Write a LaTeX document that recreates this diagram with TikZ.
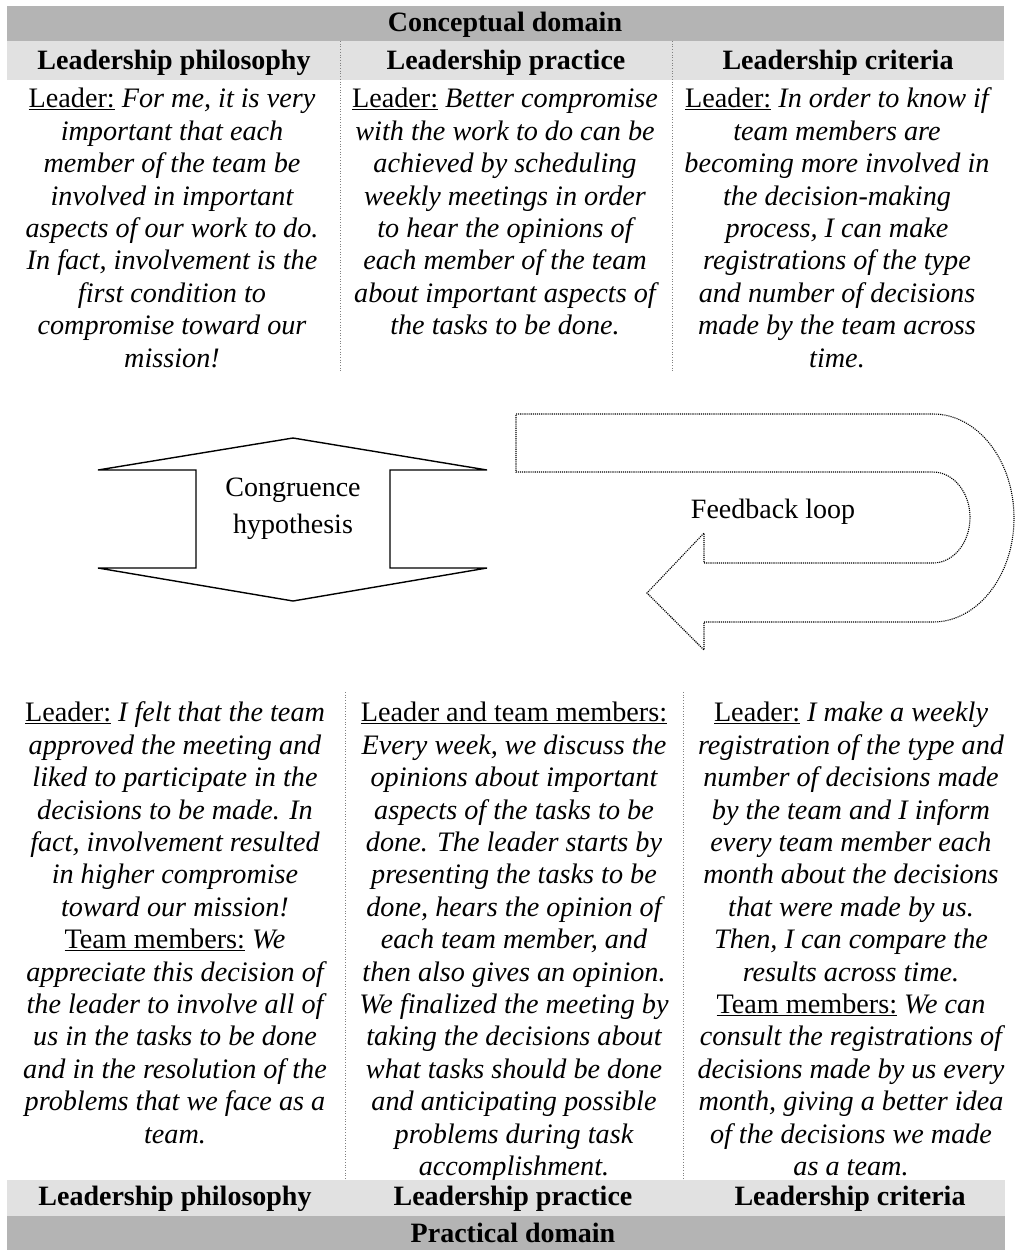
\documentclass[tikz,border=0pt]{standalone}
\usepackage{fontspec}
\setmainfont{Liberation Serif}
\definecolor{barDark}{HTML}{B4B4B4}
\definecolor{barLight}{HTML}{E1E1E1}
\newcommand\rolelabel[1]{\underline{\upshape #1}}
\begin{document}
\begin{tikzpicture}[x=1pt,y=-1pt,
  darkbar/.style={fill=barDark,draw=none},
  lightbar/.style={fill=barLight,draw=none},
  head/.style={font=\fontsize{28}{32}\selectfont\bfseries,inner sep=0pt,anchor=base},
  body/.style={font=\fontsize{28.2}{32.4}\selectfont\itshape,align=center,inner sep=0pt,anchor=north},
  label/.style={font=\fontsize{28}{37}\selectfont,align=center,inner sep=0pt},
  divider/.style={gray,dotted,line width=0.7pt},
  outline/.style={line width=1.4pt,line join=miter},
  loopline/.style={densely dotted,line width=1.1pt}]
\useasboundingbox (0,0) rectangle (1015,1250);

% header bars of the conceptual domain
\fill[darkbar] (7,6) rectangle (1004,41);
\fill[lightbar] (7,41) rectangle (1004,80);
\node[head] (cdom) at (505,31) {Conceptual domain};
\node[head] (cphil) at (174,69) {Leadership philosophy};
\node[head] (cprac) at (506,69) {Leadership practice};
\node[head] (ccrit) at (838,69) {Leadership criteria};
\draw[divider] (340,41) -- (340,372);
\draw[divider] (672,41) -- (672,372);

% conceptual statements
\node[body] (tphil) at (172,85) {\strut\rolelabel{Leader:} For me, it is very\\
important that each\\
member of the team be\\
involved in important\\
aspects of our work to do.\\
In fact, involvement is the\\
first condition to\\
compromise toward our\\
mission!};
\node[body] (tprac) at (505,85) {\strut\rolelabel{Leader:} Better compromise\\
with the work to do can be\\
achieved by scheduling\\
weekly meetings in order\\
to hear the opinions of\\
each member of the team\\
about important aspects of\\
the tasks to be done.};
\node[body] (tcrit) at (837,85) {\strut\rolelabel{Leader:} In order to know if\\
team members are\\
becoming more involved in\\
the decision-making\\
process, I can make\\
registrations of the type\\
and number of decisions\\
made by the team across\\
time.};

% congruence hypothesis double arrow
\draw[outline] (98,470) -- (293,438) -- (487,470) -- (390,470) -- (390,568)
  -- (487,568) -- (293,601) -- (98,568) -- (196,568) -- (196,470) -- cycle;
\node[label] (cong) at (293,509) {Congruence\\hypothesis};

% feedback loop U-turn arrow
\draw[loopline] (516,414) -- (933,414)
  arc[start angle=90,end angle=-90,x radius=81pt,y radius=104pt]
  -- (704,622) -- (704,650) -- (647,593) -- (704,533) -- (704,563) -- (933,563)
  arc[start angle=-90,end angle=90,x radius=37pt,y radius=45.5pt]
  -- (516,472) -- cycle;
\node[label] (fb) at (773,512) {Feedback loop};

% practical statements
\node[body] (bphil) at (175,699) {\strut\rolelabel{Leader:} I felt that the team\\
approved the meeting and\\
liked to participate in the\\
decisions to be made. In\\
fact, involvement resulted\\
in higher compromise\\
toward our mission!\\
\rolelabel{Team members:} We\\
appreciate this decision of\\
the leader to involve all of\\
us in the tasks to be done\\
and in the resolution of the\\
problems that we face as a\\
team.};
\node[body] (bprac) at (514,699) {\strut\rolelabel{Leader and team members:}\\
Every week, we discuss the\\
opinions about important\\
aspects of the tasks to be\\
done. The leader starts by\\
presenting the tasks to be\\
done, hears the opinion of\\
each team member, and\\
then also gives an opinion.\\
We finalized the meeting by\\
taking the decisions about\\
what tasks should be done\\
and anticipating possible\\
problems during task\\
accomplishment.};
\node[body] (bcrit) at (851,699) {\strut\rolelabel{Leader:} I make a weekly\\
registration of the type and\\
number of decisions made\\
by the team and I inform\\
every team member each\\
month about the decisions\\
that were made by us.\\
Then, I can compare the\\
results across time.\\
\rolelabel{Team members:} We can\\
consult the registrations of\\
decisions made by us every\\
month, giving a better idea\\
of the decisions we made\\
as a team.};
\draw[divider] (345,692) -- (345,1216);
\draw[divider] (683,692) -- (683,1216);

% footer bars of the practical domain
\fill[lightbar] (7,1180) rectangle (1005,1216);
\fill[darkbar] (7,1216) rectangle (1005,1250);
\node[head] (pphil) at (175,1205) {Leadership philosophy};
\node[head] (pprac) at (513,1205) {Leadership practice};
\node[head] (pcrit) at (850,1205) {Leadership criteria};
\node[head] (pdom) at (513,1242) {Practical domain};
\end{tikzpicture}
\end{document}
